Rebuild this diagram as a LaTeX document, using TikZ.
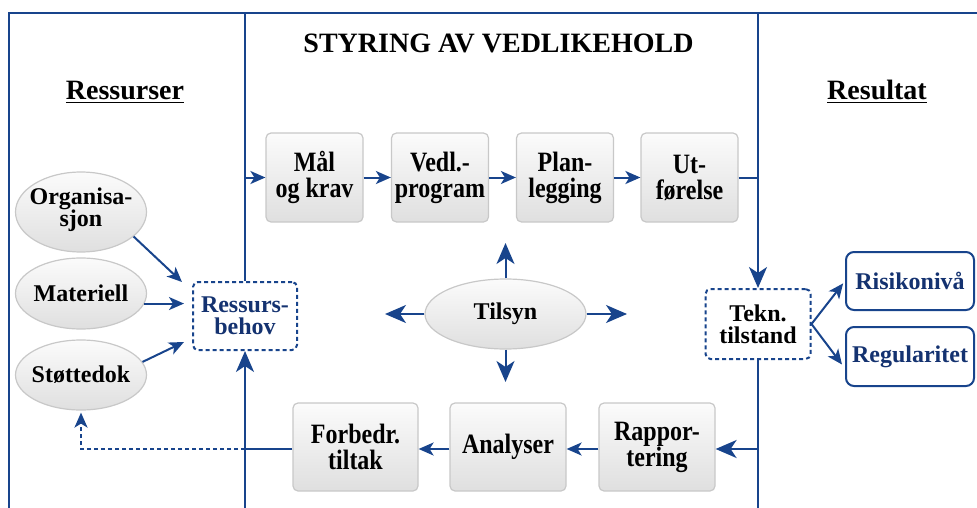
\documentclass[tikz,border=0pt]{standalone}
\usepackage{fontspec}
\setmainfont{Liberation Serif}
\newfontfamily\boxfont{Liberation Serif}[FakeStretch=0.857]
\usetikzlibrary{arrows.meta,shapes.geometric,calc}
\definecolor{navy}{RGB}{24,68,140}
\definecolor{navytext}{RGB}{20,50,112}
\definecolor{boxedge}{RGB}{200,200,200}
\tikzset{
  lbl/.style={font=\fontsize{24}{22}\selectfont\bfseries, align=center, inner sep=0pt},
  gbox/.style={align=center, inner sep=0pt, font=\boxfont\fontsize{28}{26}\selectfont\bfseries,
    rounded corners=5pt, draw=boxedge, line width=1.2pt,
    top color=gray!3, bottom color=gray!25, minimum width=97pt, minimum height=89pt},
  oval/.style={ellipse, draw=boxedge, line width=1.2pt, inner sep=0pt,
    top color=gray!3, bottom color=gray!25, minimum width=131pt},
  dbox/.style={lbl, rounded corners=5pt, draw=navy, line width=2pt,
    dash pattern=on 4pt off 3pt, fill=white},
  rbox/.style={lbl, rounded corners=8pt, draw=navy, line width=2pt, fill=white,
    text=navytext, minimum width=128pt},
  head/.style={font=\fontsize{28}{30}\selectfont\bfseries, inner sep=0pt, anchor=base},
  frame/.style={draw=navy, line width=2pt},
  sarr/.style={frame, -{Stealth[length=15pt,width=13pt,inset=4pt]}},
  barr/.style={frame, -{Stealth[length=21pt,width=18pt,inset=6pt]}},
  darr/.style={frame, dash pattern=on 4pt off 3pt}
}
\begin{document}
\begin{tikzpicture}[x=1pt,y=-1pt]
\useasboundingbox (0,0) rectangle (977,508);

% headings
\node[head] (hres) at (125,100) {\underline{Ressurser}};
\node[head] (htitle) at (498.5,53) {STYRING AV VEDLIKEHOLD};
\node[head] (hresult) at (877,100) {\underline{Resultat}};

% maintenance cycle, upper row
\node[gbox] (mal)  at (314.5,177.5) {Mål\\og krav};
\node[gbox] (vedl) at (440,177.5) {Vedl.-\\program};
\node[gbox] (plan) at (565,177.5) {Plan-\\legging};
\node[gbox] (utf)  at (689.5,177.5) {Ut-\\førelse};

% maintenance cycle, lower row
\node[gbox, minimum width=125pt, minimum height=88pt] (forb) at (355.5,447) {Forbedr.\\tiltak};
\node[gbox, minimum width=116pt, minimum height=88pt] (anal) at (508,447) {Analyser};
\node[gbox, minimum width=116pt, minimum height=88pt] (rapp) at (657,447) {Rappor-\\tering};

% supervision
\node[oval, minimum width=161pt, minimum height=70pt] (tilsyn) at (505.5,314) {};
\node[lbl] (tilsynT) at (tilsyn) {Tilsyn};

% resources (ellipses of fixed size, labels set on top)
\node[oval, minimum height=80pt] (org)  at (81,212) {};
\node[oval, minimum height=71pt] (mat)  at (81,293.5) {};
\node[oval, minimum height=70pt] (stot) at (81,375) {};
\node[lbl] (orgT)  at ([yshift=2pt]org)  {Organisa-\\sjon};
\node[lbl] (matT)  at (mat)  {Materiell};
\node[lbl] (stotT) at (stot) {Støttedok};
\node[dbox, text=navytext, minimum width=104pt, minimum height=68pt] (ress) at (245,316) {Ressurs-\\behov};

% results
\node[dbox, minimum width=105pt, minimum height=70pt] (tekn) at (758,324) {Tekn.\\tilstand};
\node[rbox, minimum height=58pt] (risk) at (910,281) {Risikonivå};
\node[rbox, minimum height=59pt] (reg)  at (910,356.5) {Regularitet};

% frame and dividers
\coordinate (lTop) at (245,13);
\coordinate (lBot) at (245,508);
\coordinate (rTop) at (758,13);
\coordinate (rBot) at (758,508);
\coordinate (lMal) at (245,177.5);
\coordinate (rUtf) at (758,177.5);
\coordinate (lForb) at (245,449);
\coordinate (rRapp) at (758,449);
\draw[frame] (977,13) -- (9,13) -- (9,508);
\draw[frame] (lTop) -- (ress.north);
\draw[barr] (lBot) -- (ress.south);
\draw[barr] (rTop) -- (tekn.north);
\draw[frame] (tekn.south) -- (rBot);

% upper row flow
\draw[sarr] (lMal) -- (mal.west);
\draw[sarr] (mal) -- (vedl);
\draw[sarr] (vedl) -- (plan);
\draw[sarr] (plan) -- (utf);
\draw[frame] (utf.east) -- (rUtf);

% lower row flow
\draw[barr] (rRapp) -- (rapp.east |- rRapp);
\draw[sarr] (rapp.west |- rRapp) -- (anal.east |- rRapp);
\draw[sarr] (anal.west |- rRapp) -- (forb.east |- rRapp);
\draw[frame] (forb.west |- lForb) -- (lForb);
\draw[darr, -{Stealth[length=15pt,width=13pt,inset=4pt]}, shorten >=2pt]
  (lForb) -- (lForb -| stot.south) -- (stot.south);

% supervision arrows
\coordinate (tU) at (505.5,243);
\coordinate (tD) at (505.5,382);
\coordinate (tL) at (385,314);
\coordinate (tR) at (627,314);
\draw[barr] (tilsyn.north) -- (tU);
\draw[barr] (tilsyn.south) -- (tD);
\draw[barr] (tilsyn.west) -- (tL);
\draw[barr] (tilsyn.east) -- (tR);

% resources into resource need
\draw[sarr] (org.-25) -- ($(ress.north west)+(-10,1)$);
\draw[sarr, shorten >=8pt] (mat.-9) -- (mat.-9 -| ress.west);
\draw[sarr] (stot.12) -- ($(ress.south west)+(-8,-9)$);

% technical condition to results
\draw[sarr, shorten >=3pt] (tekn.east) -- (risk.west);
\draw[sarr] (tekn.east) -- ($(reg.west)+(-3,8)$);
\end{tikzpicture}
\end{document}
